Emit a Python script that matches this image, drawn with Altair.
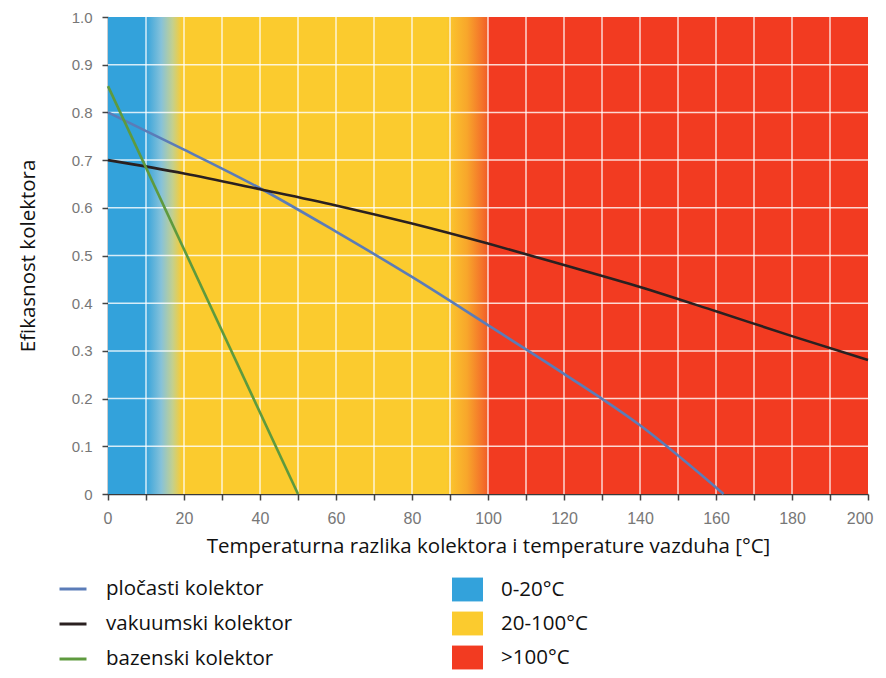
import altair as alt
import pandas as pd

# ---- data ----
temp_plocasti = [0, 20, 40, 60, 80, 100, 120, 140, 162]
eff_plocasti = [0.80, 0.722, 0.641, 0.550, 0.455, 0.354, 0.252, 0.144, 0.0]

temp_vakuumski = [0, 20, 40, 60, 80, 100, 120, 140, 160, 180, 200]
eff_vakuumski = [0.70, 0.672, 0.639, 0.605, 0.567, 0.525, 0.480, 0.434, 0.383, 0.331, 0.281]

temp_bazenski = [0, 50]
eff_bazenski = [0.855, 0.0]

series_names = ["pločasti kolektor", "vakuumski kolektor", "bazenski kolektor"]
series_colors = ["#5b7cb8", "#2a2020", "#5e9a3e"]

zone_labels = ["0-20°C", "20-100°C", ">100°C"]
zone_start = [0, 20, 100]
zone_end = [20, 100, 200]
zone_colors = ["#33a2db", "#fbcb2e", "#f23b21"]

# colour blends between zones
blend_start = [10, 89]
blend_end = [20, 100]

x_ticks = [0, 10, 20, 30, 40, 50, 60, 70, 80, 90, 100, 110, 120, 130, 140, 150, 160, 170, 180, 190, 200]
y_ticks = [0, 0.1, 0.2, 0.3, 0.4, 0.5, 0.6, 0.7, 0.8, 0.9, 1.0]
x_grid = [10, 20, 30, 40, 50, 60, 70, 80, 90, 100, 110, 120, 130, 140, 150, 160, 170, 180, 190]
y_grid = [0.1, 0.2, 0.3, 0.4, 0.5, 0.6, 0.7, 0.8, 0.9]

x_title = "Temperaturna razlika kolektora i temperature vazduha [°C]"
y_title = "Efikasnost kolektora"

# ---- tables ----
lines_df = pd.concat([
    pd.DataFrame({"series": series_names[0], "temp": temp_plocasti, "eff": eff_plocasti}),
    pd.DataFrame({"series": series_names[1], "temp": temp_vakuumski, "eff": eff_vakuumski}),
    pd.DataFrame({"series": series_names[2], "temp": temp_bazenski, "eff": eff_bazenski}),
], ignore_index=True)
zones_df = pd.DataFrame({"zone": zone_labels, "start": zone_start, "end": zone_end})
blend1_df = pd.DataFrame({"start": blend_start[:1], "end": blend_end[:1]})
blend2_df = pd.DataFrame({"start": blend_start[1:], "end": blend_end[1:]})
gx_df = pd.DataFrame({"gx": x_grid})
gy_df = pd.DataFrame({"gy": y_grid})

xscale = alt.Scale(domain=[0, 200], nice=False, zero=False)
yscale = alt.Scale(domain=[0, 1], nice=False)

label_font = "Liberation Sans"
text_font = "Open Sans"

xaxis = alt.Axis(
    values=x_ticks, title=x_title, grid=False,
    labelExpr="datum.value % 20 == 0 ? datum.label : ''",
    domainColor="#3a3a3a", domainWidth=1.5, tickColor="#444444", tickSize=6, tickWidth=1.5,
    labelFont=label_font, labelFontSize=16, labelColor="#777777", labelPadding=10,
    labelFlush=True, labelFlushOffset=5, labelOverlap=False,
    titleFont=text_font, titleFontSize=20.5, titleColor="#111111", titleFontWeight="normal",
    titlePadding=10,
)
yaxis = alt.Axis(
    values=y_ticks, title=y_title, grid=False,
    labelExpr="datum.value == 0 ? '0' : format(datum.value, '.1f')",
    domainColor="#2a3440", domainWidth=1.5, tickColor="#444444", tickSize=6, tickWidth=1.5,
    labelFont=label_font, labelFontSize=15, labelColor="#777777", labelPadding=10,
    labelFlush=False, labelOverlap=False,
    titleFont=text_font, titleFontSize=20.5, titleColor="#111111", titleFontWeight="normal",
    titlePadding=33,
)


def xenc(field):
    return alt.X(field, type="quantitative", scale=xscale, axis=xaxis)


def yenc(field):
    return alt.Y(field, type="quantitative", scale=yscale, axis=yaxis)


ydatum_lo = alt.YDatum(0, type="quantitative", scale=yscale, axis=yaxis)
ydatum_hi = alt.Y2Datum(1)

zones = alt.Chart(zones_df).mark_rect().encode(
    x=xenc("start"), x2="end", y=ydatum_lo, y2=ydatum_hi,
    fill=alt.Fill("zone:N", scale=alt.Scale(domain=zone_labels, range=zone_colors),
                  legend=alt.Legend(
                      orient="none", legendX=344, legendY=557, title=None,
                      symbolType="M-1,-0.77H1V0.77H-1Z", symbolSize=961, symbolStrokeWidth=0,
                      symbolOpacity=1,
                      labelFont=text_font, labelFontSize=20.5, labelColor="#111111",
                      labelOffset=18, rowPadding=6, padding=0, labelLimit=300)),
)

grad1 = {"gradient": "linear", "x1": 0, "x2": 1, "y1": 0, "y2": 0,
         "stops": [{"offset": 0, "color": "#36a3db"}, {"offset": 0.4, "color": "#86c2da"},
                   {"offset": 0.7, "color": "#c3d08e"}, {"offset": 0.95, "color": "#fbcb2e"},
                   {"offset": 1, "color": "#fbcb2e"}]}
grad2 = {"gradient": "linear", "x1": 0, "x2": 1, "y1": 0, "y2": 0,
         "stops": [{"offset": 0, "color": "#fbcb2e"}, {"offset": 0.5, "color": "#f8a62b"},
                   {"offset": 0.85, "color": "#f4742a"}, {"offset": 1, "color": "#f15c27"}]}

blend1 = alt.Chart(blend1_df).mark_rect(fill=grad1).encode(
    x=xenc("start"), x2="end", y=ydatum_lo, y2=ydatum_hi)
blend2 = alt.Chart(blend2_df).mark_rect(fill=grad2).encode(
    x=xenc("start"), x2="end", y=ydatum_lo, y2=ydatum_hi)

grid_x = alt.Chart(gx_df).mark_rule(color="white", strokeWidth=1.5, opacity=0.8).encode(x=xenc("gx"))
grid_y = alt.Chart(gy_df).mark_rule(color="white", strokeWidth=1.5, opacity=0.8).encode(y=yenc("gy"))

lines = alt.Chart(lines_df).mark_line(strokeWidth=2.6, interpolate="monotone").encode(
    x=xenc("temp"), y=yenc("eff"),
    color=alt.Color("series:N", scale=alt.Scale(domain=series_names, range=series_colors),
                    legend=alt.Legend(
                        orient="none", legendX=-50, legendY=557, title=None,
                        symbolType="stroke", symbolSize=729, symbolStrokeWidth=3,
                        labelFont=text_font, labelFontSize=20.5, labelColor="#111111",
                        labelOffset=18, rowPadding=9, padding=0, labelLimit=300)),
)

chart = alt.layer(zones, blend1, blend2, grid_x, grid_y, lines).properties(
    width=760, height=477,
    autosize=alt.AutoSizeParams(type="none"),
    padding={"left": 100, "top": 9, "right": 10, "bottom": 176},
).configure_view(strokeWidth=0)

chart.save("out.html", embed_options={"renderer": "svg", "actions": False})
